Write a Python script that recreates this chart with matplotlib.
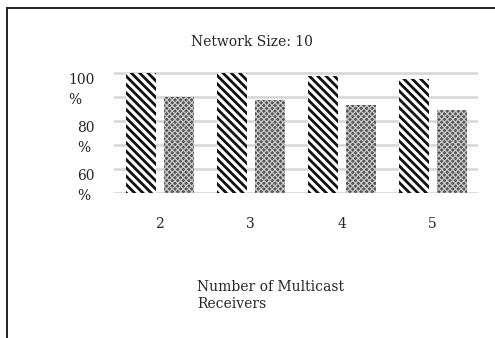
import matplotlib.pyplot as plt
from matplotlib.lines import Line2D
import matplotlib.transforms as mtransforms

plt.rcParams['font.family'] = ['DejaVu Serif']
plt.rcParams['hatch.linewidth'] = 2.0

# data
receivers = ['2', '3', '4', '5']
series_a = [100.0, 100.0, 98.7, 97.4]   # striped bars
series_b = [89.9, 88.8, 86.5, 84.6]     # checker bars
y_ticks = [60, 80, 100]
y_labels = ['60\n%', '80\n%', '100\n%']
grid_vals = [50, 60, 70, 80, 90, 100]

txt = '#262626'

fig = plt.figure(figsize=(4.95, 3.38), dpi=100)
ax = fig.add_axes([0.2303, 0.429, 0.7354, 0.3593])

x = list(range(len(receivers)))
w = 0.33
ba = ax.bar([i - 0.205 for i in x], series_a, width=w, bottom=0,
            color='white', edgecolor='#111111', linewidth=0, hatch='\\\\\\\\', zorder=3)
bb = ax.bar([i + 0.217 for i in x], series_b, width=w, bottom=0,
            color='#555555', edgecolor='#c8c8c8', linewidth=0, hatch='xxxxxx', zorder=3)
for p in bb:
    if hasattr(p, 'set_hatch_linewidth'):
        p.set_hatch_linewidth(0.9)

for g in grid_vals:
    ax.axhline(g, color='#d9d9d9', lw=2, zorder=1)

ax.set_xlim(-0.5, 3.5)
ax.set_ylim(50, 100.6)
for s in ax.spines.values():
    s.set_visible(False)
ax.set_xticks(x)
ax.set_xticklabels(receivers, fontsize=10, color=txt)
ax.tick_params(axis='x', length=0, pad=17)
ax.set_yticks(y_ticks)
ax.set_yticklabels(y_labels, fontsize=10, color=txt, va='top',
                   multialignment='left', linespacing=1.55)
ax.tick_params(axis='y', length=0, pad=14)
off = mtransforms.ScaledTranslation(0, 0, fig.dpi_scale_trans)
for lab in ax.get_yticklabels():
    lab.set_transform(lab.get_transform() + off)

fig.text(0.509, 0.876, 'Network Size: 10', ha='center', va='center',
         fontsize=10, color=txt)
fig.text(0.398, 0.172, 'Number of Multicast\nReceivers', ha='left', va='top',
         fontsize=10, color=txt, linespacing=1.3)

# outer frame of the chart box
fig.add_artist(Line2D([0.0141, 0.0141], [0.0, 0.976], color='#222222', lw=1.4))
fig.add_artist(Line2D([0.0141, 1.0], [0.976, 0.976], color='#222222', lw=1.4))

fig.savefig('out.png', dpi=100)
